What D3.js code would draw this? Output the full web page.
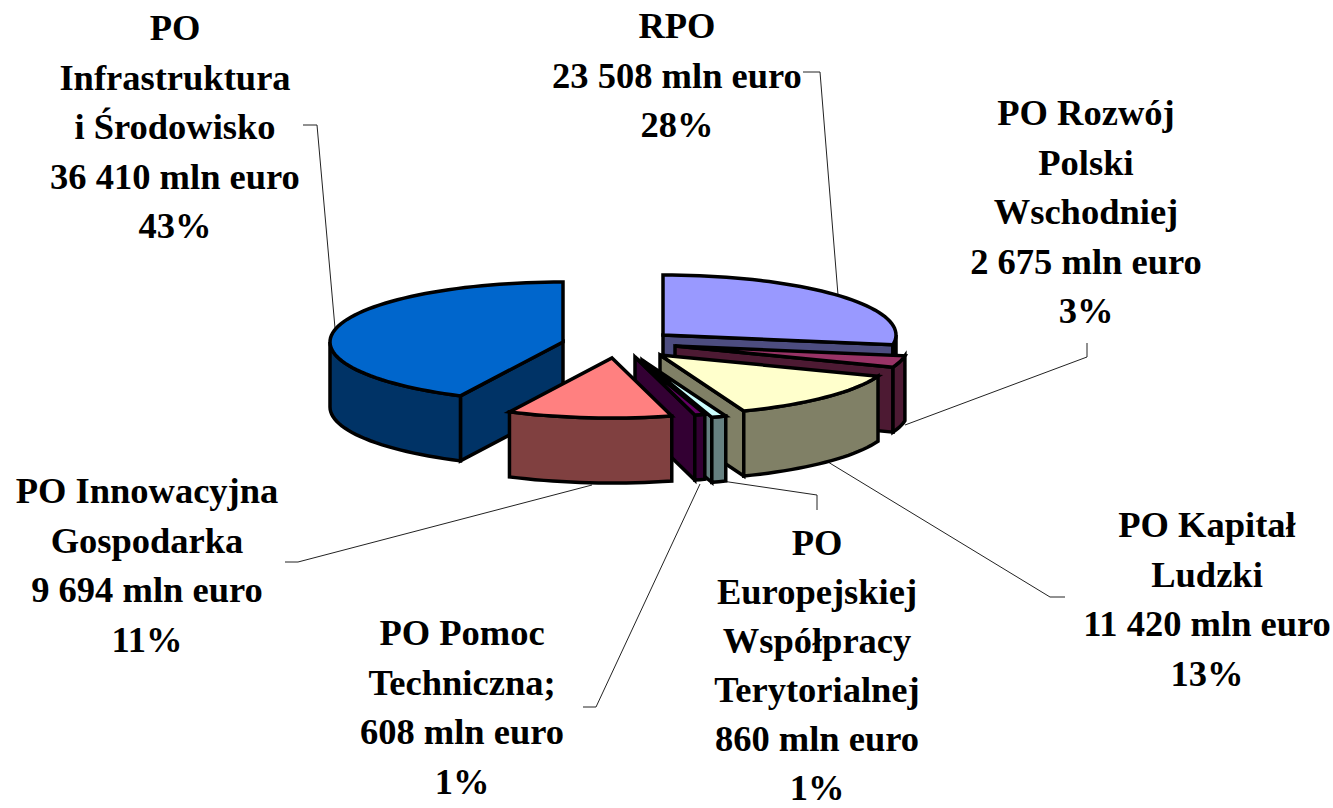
<!DOCTYPE html>
<html>
<head>
<meta charset="utf-8">
<script src="https://cdn.jsdelivr.net/npm/d3@7"></script>
<style>
    html, body { margin: 0; padding: 0; background: #fff; overflow: hidden; }
    text { font-family: "Liberation Serif", serif; font-weight: bold; font-size: 36.5px; fill: #000; text-anchor: middle; }
</style>
</head>
<body>
<div id="chart"></div>
<script>
// Values in mln euro, clockwise from 12 o'clock
const categories = ["RPO", "PO Rozwój Polski Wschodniej", "PO Kapitał Ludzki", "PO Europejskiej Współpracy Terytorialnej", "PO Pomoc Techniczna", "PO Innowacyjna Gospodarka", "PO Infrastruktura i Środowisko"];
const values = [23508, 2675, 11420, 860, 608, 9694, 36410];
const amountLabels = ["23 508 mln euro", "2 675 mln euro", "11 420 mln euro", "860 mln euro", "608 mln euro", "9 694 mln euro", "36 410 mln euro"];
const percentLabels = ["28%", "3%", "13%", "1%", "1%", "11%", "43%"];
const nameLines = [
    ["RPO"],
    ["PO Rozwój", "Polski", "Wschodniej"],
    ["PO Kapitał", "Ludzki"],
    ["PO", "Europejskiej", "Współpracy", "Terytorialnej"],
    ["PO Pomoc", "Techniczna;"],
    ["PO Innowacyjna", "Gospodarka"],
    ["PO", "Infrastruktura", "i Środowisko"]
];

// Colours of each slice: top face, sides
const topColors = ["#9999ff", "#993366", "#ffffcc", "#ccffff", "#660066", "#ff8080", "#0066cc"];
const sideColors = ["#4d4d80", "#4d1a33", "#808066", "#668080", "#330033", "#804040", "#003366"];

// Layout: where each exploded slice sits and where its label goes
const sliceCenters = [[663, 335], [675, 346], [660, 355], [642, 360], [635, 357], [612, 358], [563, 342]];
const labelAnchors = [[677, 38], [1086, 125], [1207, 537], [817, 555], [462, 645], [147, 503], [175, 40]];
const labelSteps = [49.6, 49.6, 49.6, 49, 49.6, 49.6, 49.6];
const leaders = [
    [[803, 72], [820, 72], [838, 295]],
    [[1087, 343], [1087, 357], [905, 425]],
    [[1065, 597], [1050, 597], [828, 462]],
    [[817, 510], [817, 495], [722, 481]],
    [[583, 707], [596, 707], [700, 484]],
    [[285, 562], [298, 562], [592, 485]],
    [[303, 125], [317, 125], [335, 328]]
];
const drawOrder = [0, 1, 6, 2, 3, 4, 5];

const width = 1333, height = 808, depth = 65;

const svg = d3.select("#chart").append("svg")
    .attr("width", width)
    .attr("height", height)
    .style("display", "block");

// Flattened circle: unit circle goes to an ellipse
const xScale = d3.scaleLinear().domain([-1, 1]).range([-233, 233]);
const yScale = d3.scaleLinear().domain([-1, 1]).range([60, -60]);

const pie = d3.pie().sort(null).startAngle(0).endAngle(2 * Math.PI);
const slices = pie(values);

const rimPoint = (i, a) => [
    sliceCenters[i][0] + xScale(Math.sin(a)),
    sliceCenters[i][1] + yScale(Math.cos(a))
];

const arcPoints = (i, a0, a1) => {
    const n = Math.max(2, Math.ceil((a1 - a0) / 0.04));
    return d3.range(n + 1).map(k => rimPoint(i, a0 + (a1 - a0) * k / n));
};

const line = d3.line();

function drawPoly(g, points, fill) {
    g.append("path")
        .attr("d", line(points) + "Z")
        .attr("fill", fill)
        .attr("stroke", "#000")
        .attr("stroke-width", 3.5)
        .attr("stroke-linejoin", "miter");
}

// Cut face running from the slice centre out to the rim at angle a
function cutFace(g, i, a) {
    const c = sliceCenters[i];
    const o = rimPoint(i, a);
    drawPoly(g, [c, o, [o[0], o[1] + depth], [c[0], c[1] + depth]], sideColors[i]);
}

// Leader lines go under the slices
svg.append("g").selectAll("path")
    .data(leaders)
    .enter().append("path")
    .attr("d", d => line(d))
    .attr("fill", "none")
    .attr("stroke", "#222")
    .attr("stroke-width", 1);

const pieGroup = svg.append("g");

drawOrder.forEach(i => {
    const s = slices[i];
    const g = pieGroup.append("g").attr("class", "slice");
    const a0 = s.startAngle, a1 = s.endAngle;

    // start cut faces the viewer on the left half, end cut on the right half
    if (a0 > Math.PI && a0 < 2 * Math.PI) cutFace(g, i, a0);
    if (a1 > 0 && a1 < Math.PI) cutFace(g, i, a1);

    // Outer wall, only the part on the front half of the rim
    const w0 = Math.max(a0, Math.PI / 2), w1 = Math.min(a1, 1.5 * Math.PI);
    if (w1 > w0) {
        const front = arcPoints(i, w0, w1);
        const back = front.slice().reverse().map(p => [p[0], p[1] + depth]);
        drawPoly(g, front.concat(back), sideColors[i]);
    }

    // Top face
    drawPoly(g, [sliceCenters[i]].concat(arcPoints(i, a0, a1)), topColors[i]);
});

// Labels: name lines, amount, percent
categories.forEach((name, i) => {
    const lines = nameLines[i].concat([amountLabels[i], percentLabels[i]]);
    const t = svg.append("text")
        .attr("class", "slice-label")
        .attr("data-name", name);
    lines.forEach((l, k) => {
        t.append("tspan")
            .attr("x", labelAnchors[i][0])
            .attr("y", labelAnchors[i][1] + k * labelSteps[i])
            .text(l);
    });
});
</script>
</body>
</html>
